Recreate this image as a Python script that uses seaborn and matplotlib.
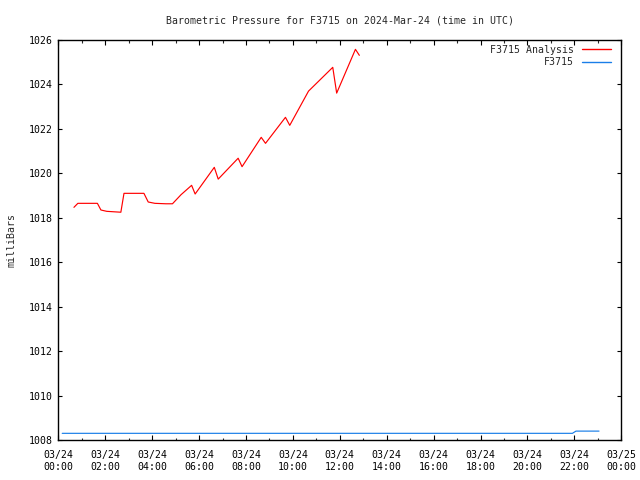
import matplotlib
matplotlib.use("Agg")
import matplotlib.pyplot as plt
import matplotlib.dates as mdates
import pandas as pd
import seaborn as sns

# --- data -----------------------------------------------------------------
analysis_times = ["00:40", "00:50", "01:40", "01:49", "02:04", "02:40", "02:48",
                  "03:39", "03:50", "04:07", "04:35", "04:52", "05:14", "05:41",
                  "05:50", "06:39", "06:49", "07:40", "07:50", "08:39", "08:50",
                  "09:41", "09:52", "10:40", "11:42", "11:52", "12:40", "12:50"]
analysis_values = [1018.47, 1018.65, 1018.65, 1018.35, 1018.29, 1018.25, 1019.10,
                   1019.10, 1018.71, 1018.65, 1018.63, 1018.63, 1019.04, 1019.46,
                   1019.07, 1020.27, 1019.74, 1020.68, 1020.30, 1021.62, 1021.35,
                   1022.52, 1022.16, 1023.70, 1024.77, 1023.61, 1025.58, 1025.31]
station_times = ["00:10", "21:55", "22:04", "23:03"]
station_values = [1008.3, 1008.3, 1008.4, 1008.4]

series_names = ["F3715 Analysis", "F3715"]
series_colors = ["#ff0000", "#1a7ee8"]
day = "2024-03-24"
title_text = "Barometric Pressure for F3715 on 2024-Mar-24 (time in UTC)"
ylabel_text = "milliBars"
y_ticks = [1008, 1010, 1012, 1014, 1016, 1018, 1020, 1022, 1024, 1026]

# --- frame ----------------------------------------------------------------
df = pd.concat([
    pd.DataFrame({"time": pd.to_datetime([f"{day} {t}" for t in analysis_times]),
                  "p": analysis_values, "series": series_names[0]}),
    pd.DataFrame({"time": pd.to_datetime([f"{day} {t}" for t in station_times]),
                  "p": station_values, "series": series_names[1]}),
], ignore_index=True)

sns.set_style("ticks")
plt.rcParams["font.family"] = ["DejaVu Sans Mono"]
fs = 7.1

fig = plt.figure(figsize=(6.4, 4.8), dpi=100)
ax = fig.add_axes([58.3 / 640, 40 / 480, (621.3 - 58.3) / 640, 400 / 480])

sns.lineplot(data=df, x="time", y="p", hue="series", hue_order=series_names,
             palette=dict(zip(series_names, series_colors)), estimator=None,
             sort=False, linewidth=0.85, ax=ax)

ax.set_xlim(pd.Timestamp(f"{day} 00:00"), pd.Timestamp(f"{day} 00:00") + pd.Timedelta(hours=24))
ax.set_ylim(1008, 1026)
ax.set_yticks(y_ticks)
ax.xaxis.set_major_locator(mdates.HourLocator(interval=2))
ax.xaxis.set_minor_locator(mdates.HourLocator(interval=1))
ax.xaxis.set_major_formatter(mdates.DateFormatter("%m/%d\n%H:%M"))

for s in ax.spines.values():
    s.set_visible(True)
    s.set_color("black")
    s.set_linewidth(1.0)

ax.tick_params(axis="x", which="major", direction="in", length=3.4, width=0.8,
               top=True, bottom=True, labelsize=fs, pad=7, colors="black")
ax.tick_params(axis="x", which="minor", direction="in", length=1.8, width=0.8,
               top=True, bottom=True)
ax.tick_params(axis="y", which="major", direction="in", length=2.6, width=0.8,
               left=True, right=True, labelsize=fs, pad=4, colors="black")
for lab in ax.get_xticklabels():
    lab.set_horizontalalignment("center")
    lab.set_linespacing(1.25)

ax.set_xlabel("")
ax.set_ylabel(ylabel_text, fontsize=fs, labelpad=9)
ax.set_title(title_text, fontsize=fs, pad=12)

leg = ax.legend(loc="upper right", bbox_to_anchor=(0.99, 1.0), frameon=False,
                markerfirst=False, fontsize=fs, handlelength=2.9,
                handletextpad=0.8, labelspacing=0.25, borderaxespad=0.1, title=None)
for line in leg.get_lines():
    line.set_linewidth(1.0)

fig.savefig("out.png", dpi=100, facecolor="white")
